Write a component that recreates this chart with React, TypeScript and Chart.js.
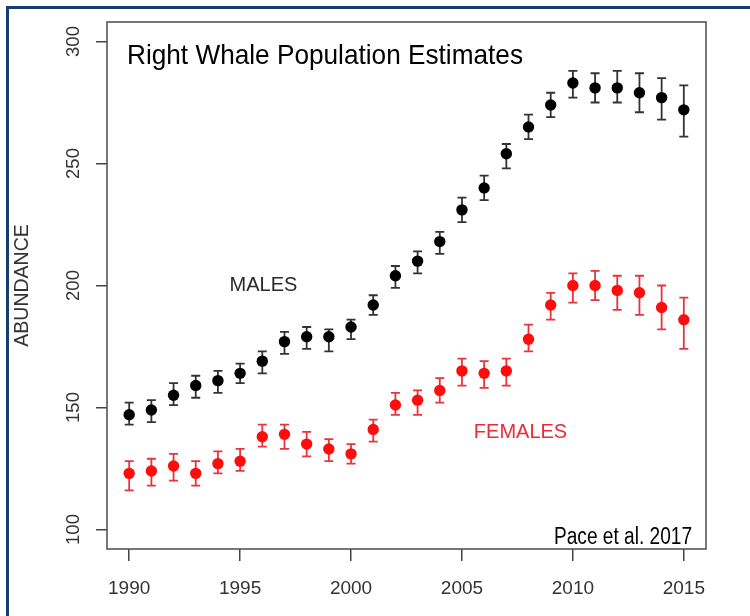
import React, { useEffect, useRef } from "react";
import { Chart, registerables } from "chart.js";

Chart.register(...registerables);

const years = [1990, 1991, 1992, 1993, 1994, 1995, 1996, 1997, 1998, 1999, 2000, 2001, 2002, 2003, 2004, 2005, 2006, 2007, 2008, 2009, 2010, 2011, 2012, 2013, 2014, 2015];

const malesEst = [147, 149, 155, 159, 161, 164, 169, 177, 179, 179, 183, 192, 204, 210, 218, 231, 240, 254, 265, 274, 283, 281, 281, 279, 277, 272];
const malesLow = [143, 144, 151, 154, 156, 160, 164, 172, 174, 173, 178, 188, 199, 205, 213, 226, 235, 248, 260, 269, 277, 275, 275, 271, 268, 261];
const malesHigh = [152, 153, 160, 163, 165, 168, 173, 181, 183, 182, 186, 196, 208, 214, 222, 236, 245, 258, 270, 279, 288, 287, 288, 287, 285, 282];

const femalesEst = [123, 124, 126, 123, 127, 128, 138, 139, 135, 133, 131, 141, 151, 153, 157, 165, 164, 165, 178, 192, 200, 200, 198, 197, 191, 186];
const femalesLow = [116, 118, 120, 118, 123, 124, 134, 133, 130, 128, 127, 136, 147, 147, 152, 159, 158, 159, 173, 186, 193, 194, 190, 188, 182, 174];
const femalesHigh = [128, 129, 131, 128, 132, 133, 143, 143, 140, 137, 135, 145, 156, 157, 162, 170, 169, 170, 184, 197, 205, 206, 204, 204, 200, 195];

const yTicks = [100, 150, 200, 250, 300];
const xTicks = [1990, 1995, 2000, 2005, 2010, 2015];

const titleText = "Right Whale Population Estimates";
const sourceText = "Pace et al. 2017";
const malesLabel = "MALES";
const femalesLabel = "FEMALES";
const yTitle = "ABUNDANCE";

const MALE_DOT = "#000000";
const MALE_BAR = "#333333";
const FEMALE_DOT = "#ff0d0d";
const FEMALE_BAR = "#e8343f";
const FONT = "'Liberation Sans', Arial, Helvetica, sans-serif";

function fitText(ctx: CanvasRenderingContext2D, text: string, x: number, y: number, size: number, targetW: number, align: CanvasTextAlign, color: string) {
  ctx.save();
  ctx.font = `${size}px ${FONT}`;
  const w = ctx.measureText(text).width;
  const s = targetW / w;
  ctx.translate(x, y);
  ctx.scale(s, 1);
  ctx.textAlign = align;
  ctx.textBaseline = "alphabetic";
  ctx.fillStyle = color;
  ctx.fillText(text, 0, 0);
  ctx.restore();
}

const errorBarPlugin = {
  id: "errorBars",
  beforeDatasetsDraw(chart: any) {
    const { ctx, scales } = chart;
    const xs = scales.x;
    const ys = scales.y;
    chart.data.datasets.forEach((ds: any) => {
      const lo: number[] = ds.errLow;
      const hi: number[] = ds.errHigh;
      if (!lo || !hi) return;
      ctx.save();
      ctx.strokeStyle = ds.barColor;
      ctx.lineWidth = 1.8;
      ds.data.forEach((p: any, i: number) => {
        const px = xs.getPixelForValue(p.x);
        const yl = ys.getPixelForValue(lo[i]);
        const yh = ys.getPixelForValue(hi[i]);
        const cap = 4.5;
        ctx.beginPath();
        ctx.moveTo(px, yl);
        ctx.lineTo(px, yh);
        ctx.moveTo(px - cap, yl);
        ctx.lineTo(px + cap, yl);
        ctx.moveTo(px - cap, yh);
        ctx.lineTo(px + cap, yh);
        ctx.stroke();
      });
      ctx.restore();
    });
  },
  afterDraw(chart: any) {
    const { ctx, chartArea, scales } = chart;
    const xs = scales.x;
    const ys = scales.y;
    ctx.save();
    ctx.strokeStyle = "#555555";
    ctx.lineWidth = 1.6;
    ctx.strokeRect(chartArea.left, chartArea.top, chartArea.right - chartArea.left, chartArea.bottom - chartArea.top);
    ctx.restore();
    fitText(ctx, titleText, chartArea.left + 20, chartArea.top + 42, 28, 396, "left", "#000000");
    fitText(ctx, sourceText, chartArea.right - 14, chartArea.bottom - 5.5, 23, 138, "right", "#000000");
    ctx.save();
    ctx.font = `20px ${FONT}`;
    ctx.textAlign = "center";
    ctx.textBaseline = "alphabetic";
    ctx.fillStyle = "#2a2a2a";
    ctx.fillText(malesLabel, xs.getPixelForValue(1996.05), ys.getPixelForValue(197.7));
    ctx.fillStyle = "#ee2a36";
    ctx.fillText(femalesLabel, xs.getPixelForValue(2007.64), ys.getPixelForValue(137.6));
    ctx.restore();
  },
};

export default function App() {
  const ref = useRef<HTMLCanvasElement | null>(null);

  useEffect(() => {
    if (!ref.current) return;
    const chart = new Chart(ref.current, {
      type: "scatter",
      data: {
        datasets: [
          {
            label: "Males",
            data: years.map((y, i) => ({ x: y, y: malesEst[i] })),
            backgroundColor: MALE_DOT,
            borderColor: MALE_DOT,
            pointRadius: 5.7,
            pointBorderWidth: 0,
            errLow: malesLow,
            errHigh: malesHigh,
            barColor: MALE_BAR,
          } as any,
          {
            label: "Females",
            data: years.map((y, i) => ({ x: y, y: femalesEst[i] })),
            backgroundColor: FEMALE_DOT,
            borderColor: FEMALE_DOT,
            pointRadius: 5.7,
            pointBorderWidth: 0,
            errLow: femalesLow,
            errHigh: femalesHigh,
            barColor: FEMALE_BAR,
          } as any,
        ],
      },
      options: {
        responsive: false,
        animation: false,
        events: [],
        layout: { padding: { left: 0, top: 22, right: 44, bottom: 0 } },
        plugins: {
          legend: { display: false },
          tooltip: { enabled: false },
          title: { display: false },
        },
        scales: {
          x: {
            type: "linear",
            min: 1989,
            max: 2016,
            afterFit: (s: any) => {
              s.height = 67;
            },
            afterBuildTicks: (s: any) => {
              s.ticks = xTicks.map((v) => ({ value: v }));
            },
            border: { display: false },
            grid: {
              drawOnChartArea: false,
              drawTicks: true,
              tickLength: 12,
              color: "#444444",
              lineWidth: 1.5,
            },
            ticks: {
              padding: 16,
              color: "#333333",
              font: { family: FONT, size: 19 },
              maxRotation: 0,
              autoSkip: false,
              callback: (v: any) => String(v),
            },
          },
          y: {
            type: "linear",
            min: 92,
            max: 308,
            afterFit: (s: any) => {
              s.width = 107;
            },
            afterBuildTicks: (s: any) => {
              s.ticks = yTicks.map((v) => ({ value: v }));
            },
            border: { display: false },
            grid: {
              drawOnChartArea: false,
              drawTicks: true,
              tickLength: 11,
              color: "#444444",
              lineWidth: 1.5,
            },
            title: {
              display: true,
              text: yTitle,
              color: "#333333",
              font: { family: FONT, size: 19.5 },
              padding: { top: 11, bottom: 0 },
            },
            ticks: {
              padding: 7,
              color: "#333333",
              font: { family: FONT, size: 18.5 },
              minRotation: 90,
              maxRotation: 90,
              crossAlign: "center",
              autoSkip: false,
              callback: (v: any) => String(v),
            },
          },
        },
      },
      plugins: [errorBarPlugin],
    } as any);
    return () => chart.destroy();
  }, []);

  return (
    <div style={{ position: "absolute", left: 0, top: 0, width: 750, height: 616, background: "#ffffff", overflow: "hidden" }}>
      <div
        style={{
          position: "absolute",
          left: 6,
          top: 6,
          width: 760,
          height: 640,
          borderLeft: "3px solid #173f6b",
          borderTop: "3px solid #173f6b",
        }}
      />
      <canvas ref={ref} width={750} height={616} style={{ position: "absolute", left: 0, top: 0, display: "block" }} />
    </div>
  );
}
